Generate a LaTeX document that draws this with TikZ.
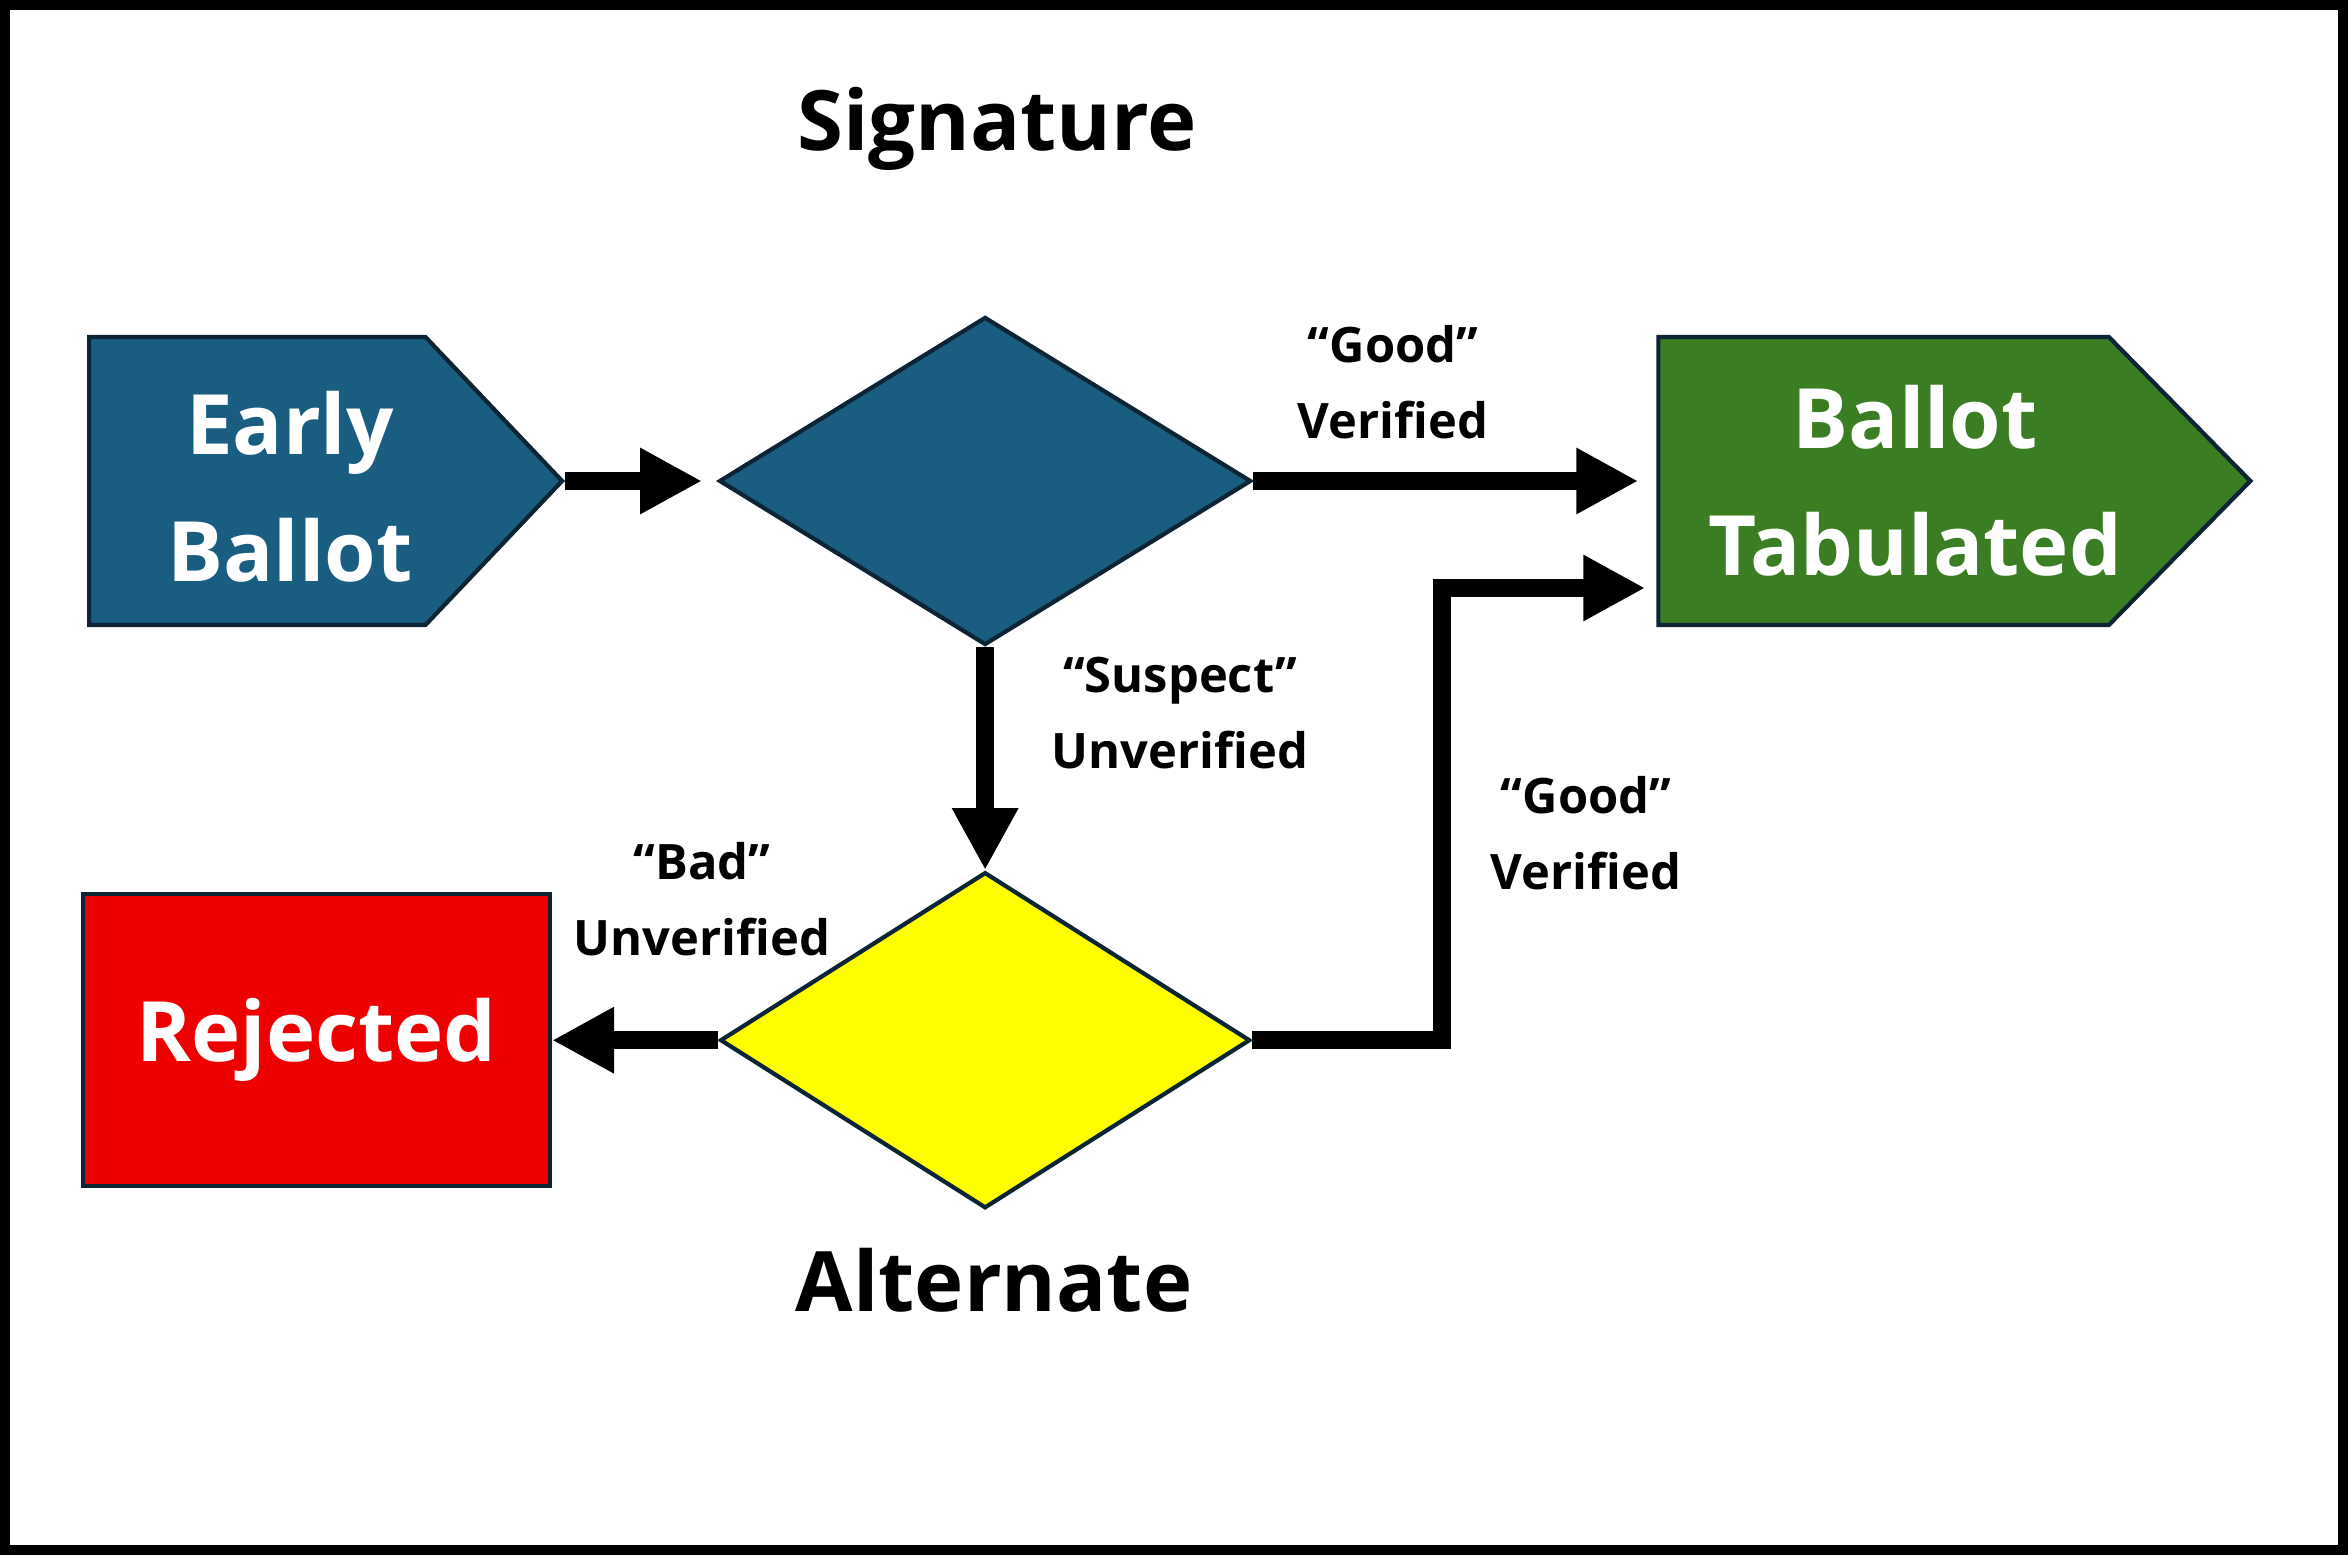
\documentclass[tikz,border=0pt]{standalone}
\usepackage{fontspec}
\setmainfont{Open Sans}
\usepackage{tikz}
\usetikzlibrary{shapes.geometric, shapes.symbols, arrows.meta, calc, positioning}
\definecolor{sigblue}{RGB}{25,94,128}
\definecolor{tabgreen}{RGB}{59,125,35}
\definecolor{rejred}{RGB}{238,0,0}
\definecolor{altyellow}{RGB}{255,255,0}
\definecolor{edgenavy}{RGB}{12,36,52}
\tikzstyle{inbox} = [signal, signal to=east, draw=edgenavy, line width=1.2pt, minimum height=2.88cm, inner sep=0pt]
\tikzstyle{boxtext} = [text=white, align=center, font=\fontsize{23.7}{36}\selectfont\bfseries]
\tikzstyle{decision} = [diamond, draw=edgenavy, line width=1.2pt, inner sep=0pt]
\tikzstyle{endbox} = [rectangle, draw=edgenavy, line width=1.2pt, text=white, font=\fontsize{23.7}{36}\selectfont\bfseries, minimum width=4.67cm, minimum height=2.92cm]
\tikzstyle{title} = [font=\fontsize{23.7}{36}\selectfont\bfseries]
\tikzstyle{tag} = [align=center, font=\fontsize{13.9}{21.6}\selectfont\bfseries]
\tikzstyle{arrow} = [line width=5.1pt, -{Triangle[length=6.2mm, width=6.2mm]}]

\begin{document}
\begin{tikzpicture}
	\draw [line width=1mm, fill=white] (0.05,0.05) rectangle (23.43,15.50);
	\node (Early) [inbox, fill=sigblue, minimum width=4.73cm, signal pointer angle=93, anchor=west] at (0.87,10.74) {};
	\node (EarlyText) [boxtext] at ($(Early.west)+(2.03,-0.06)$) {Early\\Ballot};
	\node (Signature) [decision, fill=sigblue, minimum width=5.32cm, minimum height=3.28cm, right = 1.52cm of Early] {};
	\node (Tabulated) [inbox, fill=tabgreen, minimum width=5.92cm, signal pointer angle=91, right = 4.03cm of Signature] {};
	\node (TabulatedText) [boxtext] at ($(Tabulated.west)+(2.59,0)$) {Ballot\\Tabulated};
	\node (Alternate) [decision, fill=altyellow, minimum width=5.30cm, minimum height=3.36cm, below = 2.23cm of Signature] {};
	\node (Rejected) [endbox, fill=rejred, left = 1.66cm of Alternate] {Rejected};
	\node (SignatureTitle) [title] at (9.97,14.26) {Signature};
	\node (AlternateTitle) [title] at (9.94,2.75) {Alternate};
	\node (GoodTop) [tag] at (13.93,11.73) {“Good”\\Verified};
	\node (Suspect) [tag] at (11.80,8.42) {“Suspect”\\Unverified};
	\node (Bad) [tag] at (7.02,6.56) {“Bad”\\Unverified};
	\node (GoodLow) [tag] at (15.86,7.22) {“Good”\\Verified};
	\coordinate (Turn) at (14.42,0);
	\coordinate (TabIn) at ($(Tabulated.west)+(0,-1.07)$);
	\draw [arrow, shorten >=1.5mm] (Early.east) -- (Signature.west);
	\draw [arrow, shorten >=1.8mm] (Signature.east) -- (Tabulated.west);
	\draw [arrow] (Signature.south) -- (Alternate.north);
	\draw [arrow] (Alternate.west) -- (Rejected.east);
	\draw [arrow, shorten >=1.1mm] (Alternate.east) -- (Alternate.east -| Turn) |- (TabIn);
\end{tikzpicture}
\end{document}
